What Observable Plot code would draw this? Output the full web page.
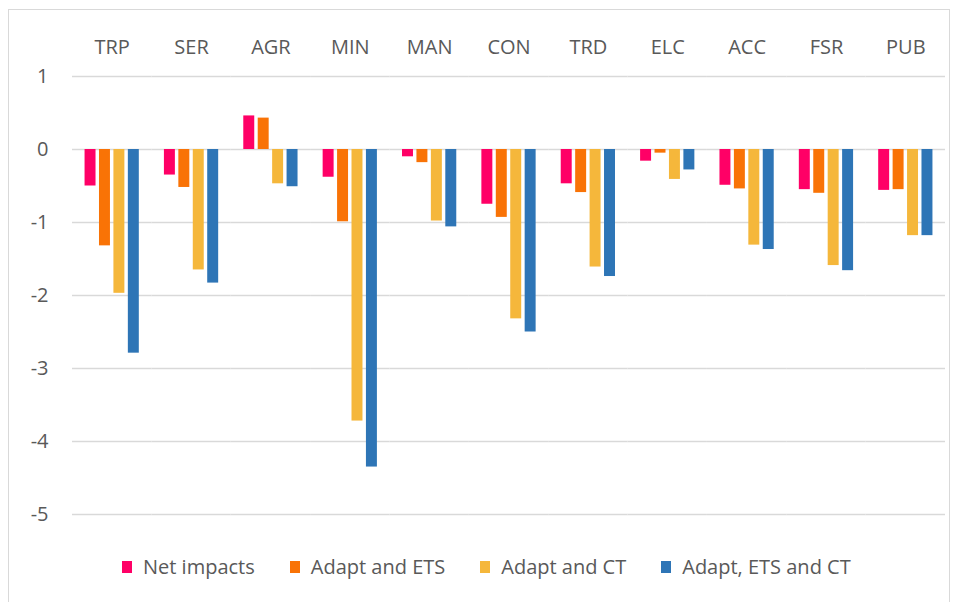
<!DOCTYPE html>
<html>
<head>
<meta charset="utf-8">
<script src="https://cdn.jsdelivr.net/npm/d3@7"></script>
<script src="https://cdn.jsdelivr.net/npm/@observablehq/plot@0.6"></script>
<style>
  html, body { margin: 0; padding: 0; background: #fff; }
  body { width: 957px; height: 602px; position: relative; overflow: hidden; font-family: "Open Sans", sans-serif; }
  #frame { position: absolute; left: 8px; top: 9px; width: 942px; height: 600px; border: 1px solid #d9d9d9; box-sizing: border-box; }
  #chart { position: absolute; left: 0; top: 0; }
  #legend { position: absolute; left: 122px; top: 553px; display: flex; align-items: center; font-size: 20px; color: #595959; white-space: nowrap; }
  #legend .item { display: flex; align-items: center; margin-right: 35px; }
  #legend .sw { width: 10px; height: 12px; margin-right: 11px; }
</style>
</head>
<body>
<div id="frame"></div>
<div id="chart"></div>
<div id="legend"></div>
<script>
const categories = ["TRP", "SER", "AGR", "MIN", "MAN", "CON", "TRD", "ELC", "ACC", "FSR", "PUB"];
const series = ["Net impacts", "Adapt and ETS", "Adapt and CT", "Adapt, ETS and CT"];
const netImpacts = [-0.50, -0.35, 0.46, -0.38, -0.10, -0.75, -0.47, -0.16, -0.49, -0.55, -0.56];
const adaptEts   = [-1.32, -0.52, 0.43, -0.99, -0.18, -0.93, -0.59, -0.05, -0.54, -0.60, -0.55];
const adaptCt    = [-1.97, -1.65, -0.47, -3.72, -0.98, -2.32, -1.61, -0.41, -1.31, -1.59, -1.18];
const adaptEtsCt = [-2.79, -1.83, -0.51, -4.35, -1.06, -2.50, -1.74, -0.28, -1.37, -1.66, -1.18];
const yTicks = [-5, -4, -3, -2, -1, 0, 1];
const colors = ["#ff0066", "#f97306", "#f5b73b", "#2e75b6"];

const seriesValues = [netImpacts, adaptEts, adaptCt, adaptEtsCt];
const data = categories.flatMap((c, i) => series.map((s, j) => ({category: c, series: s, value: seriesValues[j][i]})));

const chart = Plot.plot({
  width: 957,
  height: 540,
  marginLeft: 72,
  marginRight: 12,
  marginTop: 76,
  marginBottom: 26,
  style: {fontFamily: "'Open Sans', sans-serif", color: "#595959", background: "transparent"},
  fx: {domain: categories, padding: 0, round: false, label: null},
  x: {domain: series, paddingInner: 0.24, paddingOuter: 0.87, round: false, axis: null},
  y: {domain: [-5, 1], label: null},
  color: {domain: series, range: colors},
  marks: [
    Plot.gridY(yTicks, {stroke: "#d9d9d9", strokeOpacity: 1, strokeWidth: 1.5}),
    Plot.barY(data, {fx: "category", x: "series", y: "value", fill: "series"}),
    Plot.axisY(yTicks, {anchor: "left", tickSize: 0, tickPadding: 24, fontSize: 20, fill: "#595959", label: null, tickFormat: d => d < 0 ? "-" + Math.abs(d) : String(d)}),
    Plot.axisFx({anchor: "top", tickSize: 0, tickPadding: 23, fontSize: 20, fill: "#595959", label: null})
  ]
});
document.getElementById("chart").appendChild(chart);

const legend = document.getElementById("legend");
series.forEach((s, j) => {
  const item = document.createElement("div");
  item.className = "item";
  const sw = document.createElement("span");
  sw.className = "sw";
  sw.style.background = colors[j];
  const t = document.createElement("span");
  t.textContent = s;
  item.appendChild(sw);
  item.appendChild(t);
  legend.appendChild(item);
});
</script>
</body>
</html>
